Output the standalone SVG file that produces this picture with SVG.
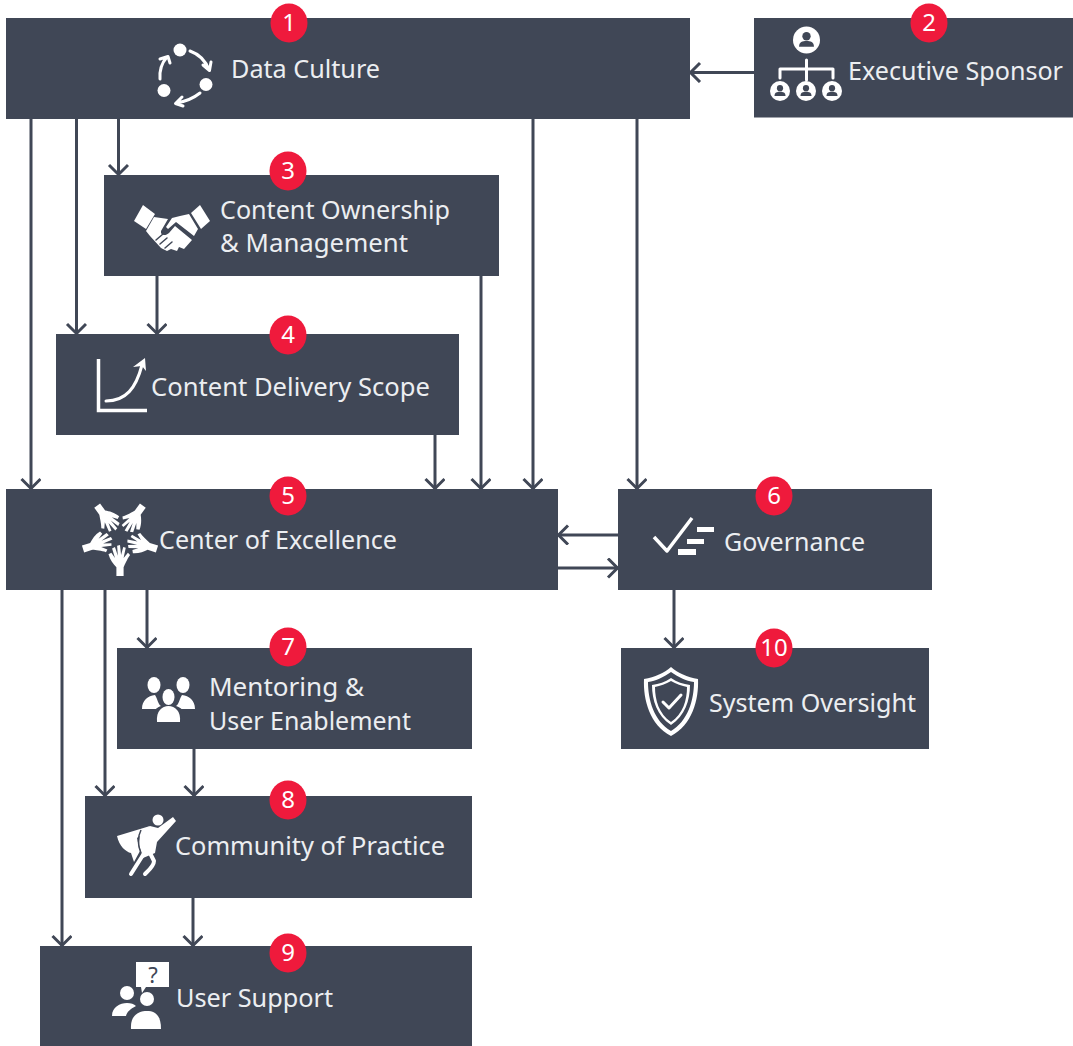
<svg xmlns="http://www.w3.org/2000/svg" xmlns:xlink="http://www.w3.org/1999/xlink" width="1073" height="1046" viewBox="0 0 1073 1046">
<style>
.box{fill:#404756}
.t{font-family:"Noto Sans","Open Sans","DejaVu Sans",sans-serif;font-size:26px;fill:#eceef1}
.b{fill:#ef1a3c}
.n{font-family:"Noto Sans","Open Sans","DejaVu Sans",sans-serif;font-size:24px;fill:#fff;text-anchor:middle}
.c{fill:none;stroke:#404756;stroke-width:3;marker-end:url(#a)}
.w{fill:#fff}
.ws{fill:none;stroke:#fff;stroke-width:3;stroke-linecap:round;stroke-linejoin:round}
.d{fill:#404756}
</style>
<defs>
<marker id="a" markerUnits="userSpaceOnUse" markerWidth="24" markerHeight="24" refX="12" refY="10" orient="auto">
<path d="M2 0.500L11.500 10L2 19.500" fill="none" stroke="#404756" stroke-width="3"/>
</marker>
<g id="hand">
<path class="w" d="M-5 36L-5 24C-9 20-14 14-16 6L-12 4L-7 11L-11-2L-7-4L-3 8L-4-6L0-7L1.500 7L4.500-4L8-3L5 11L11 4L14 7C10 12 7 20 5 24L5 36Z"/>
</g>
<g id="person">
<circle class="w" cx="0" cy="0" r="10"/>
<circle class="d" cx="0" cy="-2.800" r="3.100"/>
<path class="d" d="M-5.500 5C-5.500 1.500-3 0.800 0 0.800S5.500 1.500 5.500 5Z"/>
</g>
</defs>
<rect width="1073" height="1046" fill="#fff"/>
<g id="connectors">
<path class="c" d="M754 72.500H690"/>
<path class="c" d="M31 119V489"/>
<path class="c" d="M76.500 119V334"/>
<path class="c" d="M118.500 119V175"/>
<path class="c" d="M533 119V489"/>
<path class="c" d="M637 119V489"/>
<path class="c" d="M157 276V334"/>
<path class="c" d="M481 276V489"/>
<path class="c" d="M435 435V489"/>
<path class="c" d="M618 535H558"/>
<path class="c" d="M558 568H618"/>
<path class="c" d="M62 590V946"/>
<path class="c" d="M105 590V796"/>
<path class="c" d="M147 590V648"/>
<path class="c" d="M194 749V796"/>
<path class="c" d="M193 898V946"/>
<path class="c" d="M674 590V648"/>
</g>
<g id="node1">
<rect class="box" x="6" y="18" width="684" height="101"/>
<circle class="w" cx="180" cy="50" r="6.500"/><circle class="w" cx="206" cy="84.500" r="6.500"/><circle class="w" cx="164" cy="90.500" r="6.500"/>
<path class="ws" d="M190 51Q204 56 209 70M203 65L209.500 70.500L211 62M200 93Q190 101 176 103M182 97L175.500 103.500L183 106M160 79Q159 66 167 57M160 59L168 56.500L170 63"/>
<text class="t" x="231" y="78" textLength="149" lengthAdjust="spacingAndGlyphs">Data Culture</text>
<ellipse class="b" cx="289" cy="23" rx="18.500" ry="19.500"/><text class="n" x="289" y="31">1</text>
</g>
<g id="node2">
<rect class="box" x="754" y="18" width="319" height="99.500"/>
<g transform="translate(806.500 40) scale(1.350)"><use xlink:href="#person"/></g>
<path class="ws" d="M806.500 60V80M780 78V69H833V78"/>
<use xlink:href="#person" x="780" y="91"/><use xlink:href="#person" x="806" y="91"/><use xlink:href="#person" x="832" y="91"/>
<text class="t" x="848" y="80" textLength="215" lengthAdjust="spacingAndGlyphs">Executive Sponsor</text>
<ellipse class="b" cx="929" cy="23" rx="18.500" ry="19.500"/><text class="n" x="929" y="31">2</text>
</g>
<g id="node3">
<rect class="box" x="104" y="175" width="395" height="101"/>
<path class="w" d="M143 205L134 221L146 229L155 214ZM200 205L191 213L201 229L210 221Z"/>
<path class="w" d="M154 217L168 219L161 231C160 236 166 236 169 233L175 226L192 240L184 249L179 247L177 251L171 249L167 251L161 248L150 236L146 231Z"/>
<path class="w" d="M172 218L180 216L189 214L198 229L194 236L176 222L168 229L166 227Z"/>
<path class="ws" style="stroke:#404756;stroke-width:1.500" d="M156 240L163 234M160 244L167 238M165 248L172 242"/>
<text class="t" x="220" y="219" textLength="230" lengthAdjust="spacingAndGlyphs">Content Ownership</text>
<text class="t" x="220" y="252" textLength="188" lengthAdjust="spacingAndGlyphs">&amp; Management</text>
<ellipse class="b" cx="288" cy="171" rx="18.500" ry="19.500"/><text class="n" x="288" y="179">3</text>
</g>
<g id="node4">
<rect class="box" x="56" y="334" width="403" height="101"/>
<path class="ws" style="stroke-linecap:butt;stroke-linejoin:miter;stroke-width:3.500" d="M98.500 359V410.500H147"/>
<path class="ws" d="M106 401C126 401 136 388 142 365"/>
<path class="w" d="M133 367L145 358L146 371L142 366Z"/>
<text class="t" x="151" y="396" textLength="279" lengthAdjust="spacingAndGlyphs">Content Delivery Scope</text>
<ellipse class="b" cx="288" cy="335" rx="18.500" ry="19.500"/><text class="n" x="288" y="343">4</text>
</g>
<g id="node5">
<rect class="box" x="6" y="489" width="552" height="101"/>
<g transform="translate(120 537) scale(.72)">
<use xlink:href="#hand" transform="translate(0 18)"/>
<use xlink:href="#hand" transform="rotate(72) translate(0 18)"/>
<use xlink:href="#hand" transform="rotate(144) translate(0 18)"/>
<use xlink:href="#hand" transform="rotate(216) translate(0 18)"/>
<use xlink:href="#hand" transform="rotate(288) translate(0 18)"/>
</g>
<text class="t" x="159" y="549" textLength="238" lengthAdjust="spacingAndGlyphs">Center of Excellence</text>
<ellipse class="b" cx="288" cy="496" rx="18.500" ry="19.500"/><text class="n" x="288" y="504">5</text>
</g>
<g id="node6">
<rect class="box" x="618" y="489" width="314" height="101"/>
<path class="ws" style="stroke-linecap:butt;stroke-width:3.500" d="M654 537L667 551L692 518"/>
<path class="w" d="M697 527H714V532H697ZM687 539H704V544H687ZM678 549H696V555H678Z"/>
<text class="t" x="724" y="551" textLength="141" lengthAdjust="spacingAndGlyphs">Governance</text>
<ellipse class="b" cx="774" cy="496" rx="18.500" ry="19.500"/><text class="n" x="774" y="504">6</text>
</g>
<g id="node7">
<rect class="box" x="117" y="648" width="355" height="101"/>
<ellipse class="w" cx="154" cy="685" rx="6.500" ry="8"/><ellipse class="w" cx="183" cy="685" rx="6.500" ry="8"/><ellipse class="w" cx="168.500" cy="697" rx="6" ry="8"/>
<path class="w" d="M142 709C142 700 148 696 155 695C158 700 158 704 161 706C157 707 157 709 155 709ZM195 709C195 700 189 696 182 695C179 700 179 704 176 706C180 707 181 709 182 709Z"/>
<path class="w" d="M157 722C156 711 162 706 168.500 706S181 711 180 722Z"/>
<text class="t" x="209" y="696" textLength="155" lengthAdjust="spacingAndGlyphs">Mentoring &amp;</text>
<text class="t" x="209" y="730" textLength="202" lengthAdjust="spacingAndGlyphs">User Enablement</text>
<ellipse class="b" cx="288" cy="647" rx="18.500" ry="19.500"/><text class="n" x="288" y="655">7</text>
</g>
<g id="node8">
<rect class="box" x="85" y="796" width="387" height="102"/>
<circle class="w" cx="158" cy="820" r="5.500"/>
<path class="w" d="M173 817L176 821L157 842L155 853L143 858L139 845L140 832L150 826L158 828Z"/>
<path class="w" d="M150 826L117 836C119 846 126 852 131 853L134 862L140 851L137 838Z"/>
<path fill="none" stroke="#404756" stroke-width="1.500" d="M141 830C137 838 138 846 141 853"/>
<path class="ws" style="stroke-width:4" d="M143 855L131 874M150 853L154 861C154 866 149 870 145 874"/>
<text class="t" x="175" y="855" textLength="270" lengthAdjust="spacingAndGlyphs">Community of Practice</text>
<ellipse class="b" cx="288" cy="800" rx="18.500" ry="19.500"/><text class="n" x="288" y="808">8</text>
</g>
<g id="node9">
<rect class="box" x="40" y="946" width="432" height="100"/>
<path class="w" d="M136 962H169V987H146L142 993L141 987H136Z"/>
<text x="153" y="983" font-family="Noto Sans, sans-serif" font-size="22" fill="#404756" text-anchor="middle">?</text>
<circle class="w" cx="127" cy="993" r="7"/><circle class="w" cx="147" cy="999" r="7"/>
<path class="w" d="M112 1016C112 1007 120 1003 127 1003C131 1003 134 1004 136 1006C130 1009 127 1012 126 1016Z"/>
<path class="w" d="M131 1029C130 1015 139 1011 147 1011S161 1015 161 1029Z"/>
<text class="t" x="176" y="1007" textLength="157" lengthAdjust="spacingAndGlyphs">User Support</text>
<ellipse class="b" cx="288" cy="953" rx="18.500" ry="19.500"/><text class="n" x="288" y="961">9</text>
</g>
<g id="node10">
<rect class="box" x="621" y="648" width="308" height="101"/>
<path class="w" d="M671 667C678 673 687 677 698 679C699 700 692 725 671 736C650 725 643 700 644 679C655 677 664 673 671 667Z"/>
<path class="d" d="M671 672C678 677 686 681 694 682C694 700 688 721 671 731C654 721 648 700 648 682C656 681 664 677 671 672Z"/>
<path class="w" d="M671 678C677 682 683 684 690 685C690 700 685 716 671 725C657 716 652 700 652 685C659 684 665 682 671 678Z"/>
<path class="d" d="M671 681C676 684 682 686 687 687C687 700 683 714 671 722C659 714 655 700 655 687C660 686 666 684 671 681Z"/>
<path class="ws" d="M663 702L669 708L681 695"/>
<text class="t" x="709" y="712" textLength="207" lengthAdjust="spacingAndGlyphs">System Oversight</text>
<ellipse class="b" cx="774" cy="648" rx="18.500" ry="19.500"/><text class="n" x="774" y="656">10</text>
</g>
</svg>
